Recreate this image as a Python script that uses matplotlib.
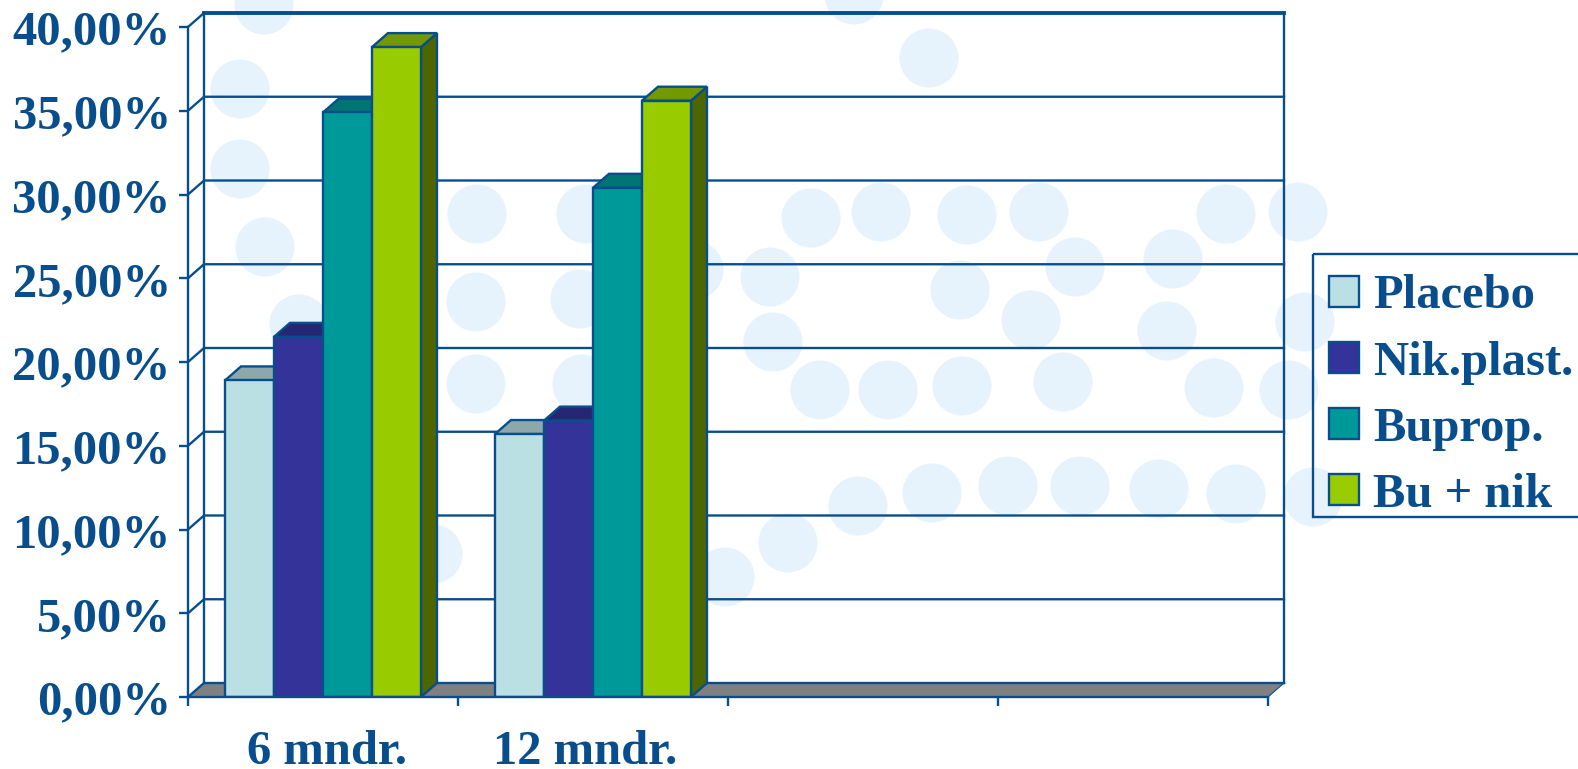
import matplotlib
matplotlib.use("Agg")
import matplotlib.pyplot as plt
from matplotlib.patches import Circle, Patch, Polygon, Rectangle

# data
categories = ["6 mndr.", "12 mndr."]
series = ["Placebo", "Nik.plast.", "Buprop.", "Bu + nik"]
placebo = [18.9, 15.7]
nik_plast = [21.5, 16.5]
buprop = [34.9, 30.4]
bu_nik = [38.8, 35.6]
yticks = [0, 5, 10, 15, 20, 25, 30, 35, 40]
ylabels = ["0,00%", "5,00%", "10,00%", "15,00%", "20,00%", "25,00%", "30,00%", "35,00%", "40,00%"]

# colours
blue = "#084e8c"
front = ["#bbe0e3", "#333399", "#009999", "#99cc00"]
top = ["#8ca8aa", "#262673", "#007373", "#739900"]
side = ["#5e7072", "#1a1a4d", "#004d4d", "#4d6600"]
bubble = "#e6f3fd"
fs = 35

W, H = 1578, 769
fig = plt.figure(figsize=(W / 100, H / 100), dpi=100, facecolor="white")
plt.rcParams["font.family"] = ["Liberation Serif", "DejaVu Serif"]

# background decoration of the slide, in pixels
bg = fig.add_axes([0, 0, 1, 1])
bg.set_xlim(0, W)
bg.set_ylim(H, 0)
bg.axis("off")
bubbles = [(264, 5), (240, 89), (240, 169), (265, 247), (299, 324), (477, 214), (586, 214),
           (476, 302), (580, 299), (476, 384), (582, 384), (433, 554), (725, 577), (788, 543),
           (858, 506), (932, 493), (1008, 486), (1080, 486), (1159, 489), (1236, 494), (1313, 497),
           (820, 390), (888, 390), (962, 386), (1063, 382), (1214, 388), (1289, 390), (773, 342),
           (770, 277), (694, 270), (811, 218), (881, 212), (967, 215), (1039, 212), (1075, 267),
           (960, 290), (1031, 320), (1173, 259), (1167, 331), (1226, 214), (1298, 212), (1305, 322),
           (854, -5), (929, 58)]
for bx, by in bubbles:
    bg.add_patch(Circle((bx, by), 29.5, color=bubble, lw=0))

# plot area: front plane
x0, x1, y0, y1 = 188, 1268, 697, 27
ax = fig.add_axes([x0 / W, 1 - y0 / H, (x1 - x0) / W, (y0 - y1) / H])
ax.patch.set_visible(False)
ax.set_xlim(0, 4)
ax.set_ylim(0, 40)

# 3d depth in data units
dx = 16 / 270
dy = 14 / 16.75
lw = 1.7

# floor
ax.add_patch(Polygon([(0, 0), (4, 0), (4 + dx, dy), (dx, dy)], fc="#808080", ec="none",
                     clip_on=False, zorder=1))

# back wall and grid
for v in yticks:
    if v == 40:
        continue
    ax.plot([0, dx, 4 + dx], [v, v + dy, v + dy], color=blue, lw=lw, clip_on=False, zorder=1.5)
ax.plot([0, dx], [40, 40 + dy], color=blue, lw=lw, clip_on=False, zorder=1.5)
ax.plot([dx, 4 + dx], [40 + dy, 40 + dy], color=blue, lw=2.8, clip_on=False, zorder=1.6)
ax.plot([dx, dx], [dy, 40 + dy], color=blue, lw=lw, clip_on=False, zorder=1.5)
ax.plot([4 + dx, 4 + dx], [dy, 40 + dy], color=blue, lw=lw, clip_on=False, zorder=1.5)
ax.plot([4, 4 + dx], [0, dy], color=blue, lw=0.8, clip_on=False, zorder=1.5)

# bars
bar_w = 49 / 270
values = [placebo, nik_plast, buprop, bu_nik]
z = 2
for i, vals in enumerate(values):
    for j, v in enumerate(vals):
        left = j + 0.5 + (i - 2) * bar_w
        right = left + bar_w
        ax.add_patch(Polygon([(right, 0), (right + dx, dy), (right + dx, v + dy), (right, v)],
                             fc=side[i], ec=blue, lw=lw, zorder=z, clip_on=False))
        ax.add_patch(Polygon([(left, v), (right, v), (right + dx, v + dy), (left + dx, v + dy)],
                             fc=top[i], ec=blue, lw=lw, zorder=z, clip_on=False))
        ax.bar(left, v, bar_w, align="edge", color=front[i], edgecolor=blue, lw=lw, zorder=z + 0.1)
        z += 1

# axes
for s in ["top", "right"]:
    ax.spines[s].set_visible(False)
for s in ["left", "bottom"]:
    ax.spines[s].set_color(blue)
    ax.spines[s].set_linewidth(lw)
    ax.spines[s].set_zorder(50)
ax.set_yticks(yticks)
ax.set_yticklabels([])
ax.set_xticks([0, 1, 2, 3, 4])
ax.set_xticklabels([])
ax.tick_params(axis="y", length=6.5, width=lw, color=blue)
ax.tick_params(axis="x", length=6.5, width=lw, color=blue)
for v, lab in zip(yticks, ylabels):
    ax.annotate(lab, (0, v), xycoords=ax.get_yaxis_transform(), xytext=(-12.5, -4),
                textcoords="offset points", ha="right", va="center",
                fontsize=fs, fontweight="bold", color=blue)

# category labels
label_x = [0.515, 1.47]
for cx, c in zip(label_x, categories):
    ax.text(cx, -0.1, c, transform=ax.get_xaxis_transform(), ha="center", va="baseline",
            fontsize=fs, fontweight="bold", color=blue)

# legend, the box runs off the right edge
bg.add_patch(Rectangle((1313, 254), 300, 263, fc="none", ec=blue, lw=lw))
handles = [Patch(fc=front[i], ec=blue, lw=lw, label=series[i]) for i in range(4)]
leg = fig.legend(handles=handles, loc="upper left", bbox_to_anchor=(1329 / W, 1 - 274.5 / H),
                 frameon=False, prop={"size": fs, "weight": "bold"}, labelcolor=blue,
                 handlelength=0.62, handleheight=0.62, handletextpad=0.29,
                 labelspacing=0.455, borderpad=0, borderaxespad=0)

fig.savefig("out.png", dpi=100)
